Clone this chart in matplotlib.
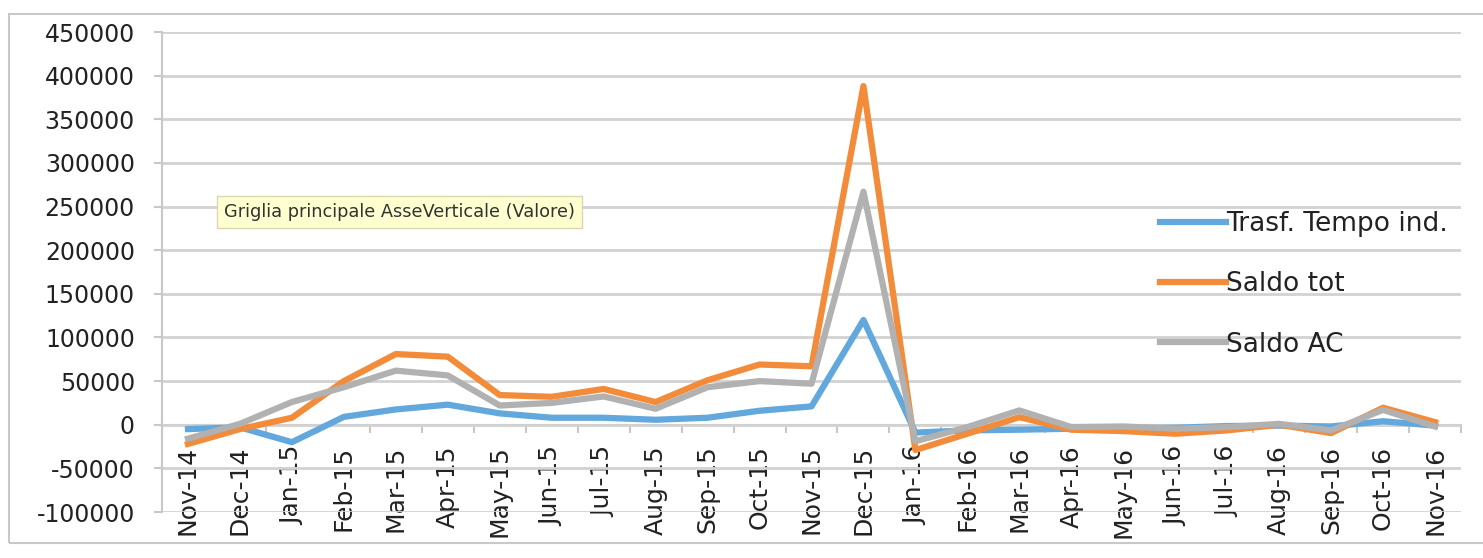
import matplotlib.pyplot as plt
from matplotlib.patches import Rectangle
import numpy as np

# categories (months)
months = ['Nov-14', 'Dec-14', 'Jan-15', 'Feb-15', 'Mar-15', 'Apr-15', 'May-15',
          'Jun-15', 'Jul-15', 'Aug-15', 'Sep-15', 'Oct-15', 'Nov-15', 'Dec-15',
          'Jan-16', 'Feb-16', 'Mar-16', 'Apr-16', 'May-16', 'Jun-16', 'Jul-16',
          'Aug-16', 'Sep-16', 'Oct-16', 'Nov-16']

trasf_tempo = [-5000, -3000, -20000, 9000, 17500, 23000, 13000, 8000, 8000, 5700,
               8000, 16000, 21000, 120000, -9000, -6500, -5700, -4600, -4000,
               -3500, -1500, -1000, -2000, 4000, -1000]
saldo_tot = [-22000, -5000, 8000, 50000, 81000, 78000, 34000, 32000, 41000, 26000,
             51000, 69000, 67000, 388000, -29000, -10300, 8700, -5700, -7300,
             -10300, -6500, 0, -9600, 19500, 3000]
saldo_ac = [-16000, 1000, 26000, 43000, 62000, 56500, 22000, 25000, 32400, 18300,
            43000, 50000, 47000, 267000, -19000, -2700, 16400, -2700, -2000,
            -4600, -2700, 1000, -6500, 17000, -2000]

yticks = np.arange(-100000, 450001, 50000)

fig = plt.figure(figsize=(14.83, 5.58), dpi=100)
ax = fig.add_axes([162/1483, 1 - 512/558, (1461-162)/1483, (512-32)/558])

x = np.arange(len(months))
ax.plot(x, trasf_tempo, color='#62A8DC', lw=4.5, label='Trasf. Tempo ind.', solid_joinstyle='round')
ax.plot(x, saldo_tot, color='#F28C3B', lw=4.5, label='Saldo tot', solid_joinstyle='round')
ax.plot(x, saldo_ac, color='#B1B1B1', lw=4.5, label='Saldo AC', solid_joinstyle='round')

ax.set_xlim(-0.5, len(months) - 0.5)
ax.set_ylim(-100000, 450000)
ax.set_yticks(yticks)
ax.set_yticklabels([str(v) for v in yticks], fontsize=17, color='#222222')
ax.set_xticks([])
ax.tick_params(axis='y', length=6, width=1.5, color='#C8C8C8', pad=13.5)
ax.grid(axis='y', color='#D2D2D2', lw=2)
ax.set_axisbelow(True)
for s in ['top', 'right', 'bottom']:
    ax.spines[s].set_visible(False)
ax.spines['left'].set_color('#C8C8C8')
ax.spines['left'].set_linewidth(1.5)

# category axis crossing at zero, labels next to it, tick marks between categories
sec = ax.secondary_xaxis(0, transform=ax.transData)
sec.set_xticks(x)
sec.set_xticklabels(months, rotation=90, fontsize=18, color='#222222')
sec.set_xticks(np.arange(-0.5, len(months), 1.0), minor=True)
sec.tick_params(which='major', length=0, pad=15)
sec.tick_params(which='minor', length=6, width=1.5, color='#C8C8C8')
sec.spines['bottom'].set_color('#C8C8C8')
sec.spines['bottom'].set_linewidth(1.5)

leg = ax.legend(loc='upper left', bbox_to_anchor=(1160/1483, 1 - 211/558),
                bbox_transform=fig.transFigure, frameon=False, fontsize=19,
                handlelength=2.5, handletextpad=0.0, labelspacing=1.3,
                borderpad=0, borderaxespad=0)
for t in leg.get_texts():
    t.set_color('#222222')

# tooltip box
fig.text(224/1483, 1 - 212/558, 'Griglia principale AsseVerticale (Valore)',
         fontsize=12.8, color='#333333', va='center', ha='left',
         bbox=dict(boxstyle='square,pad=0.4', fc='#FFFFD0', ec='#D8D8B0', lw=1))

# chart area border
fig.patches.append(Rectangle((9/1483, 1 - 543/558), 1.1, (543-14)/558,
                             transform=fig.transFigure, fill=False,
                             ec='#C8C8C8', lw=1.5))

fig.savefig('out.png', dpi=100)
